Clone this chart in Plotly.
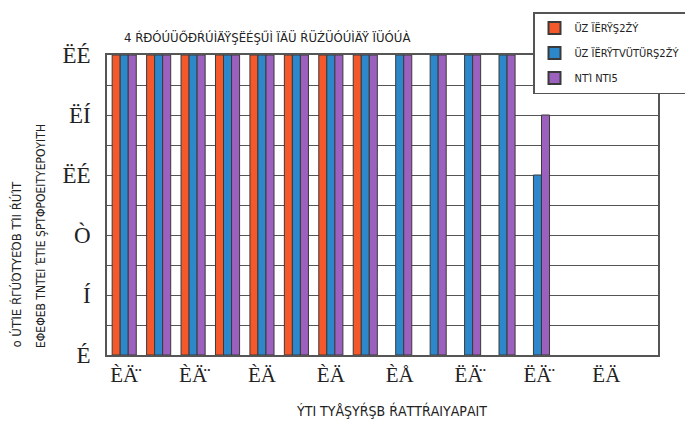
import plotly.graph_objects as go

# ---- data ----
categories = list(range(1, 17))
tick_positions = [1, 3, 5, 7, 9, 11, 13, 15]
x_tick_labels = ["ÈÄ̈", "ÈÄ̈", "ÈÄ", "ÈÄ", "ÈÅ", "ËÄ̈", "ËÄ̈", "ËÄ"]
y_tick_values = [0, 20, 40, 60, 80, 100]
y_tick_labels = ["É", "Í", "Ò", "ËÉ", "ËÍ", "ËÉ"]

series_names = ["ÜZ ÏËRŸŞ2ŽÝ", "ÜZ ÏËRŸΤVÜTÜRŞ2ŽÝ", "ΝΤΊ ΝΤΙ5"]
red_values = [100, 100, 100, 100, 100, 100, 100, 100, None, None, None, None, None, None, None, None]
blue_values = [100, 100, 100, 100, 100, 100, 100, 100, 100, 100, 100, 100, 60, None, None, None]
purple_values = [100, 100, 100, 100, 100, 100, 100, 100, 100, 100, 100, 100, 80, None, None, None]

title_text = "4 ŔÐÓÚÜŐÐŔÚÌÄŸŞËÉŞŰÌ ÏÄÜ ŔÜŹÜÓÚÌÄŸ ÏÜÓÚÀ"
x_title_text = "ÝΤΙ ΤΥÅŞΥŔŞΒ ŔΑΤΤŔΑΙΥΑΡΑΙΤ"
y_title_line1 = "ο ÚΤΊΕ ŔΓÚΌΤΥΕΌΒ ΤΊΙ ŔÚΊΤ"
y_title_line2 = "ΕΦΕΦΕΒ ΤΝΤΕΙ ΈΤΙΕ ŞΡΤΦΡΟΕΙΤΥΕΡΟΥΙΤΗ"

colors = ["#F4582B", "#2C88CB", "#9C60BE"]
narrow = "Liberation Sans Narrow, DejaVu Sans Condensed, sans-serif"
serif = "Liberation Serif, DejaVu Serif, serif"

fig = go.Figure()
for i, (name, vals, c) in enumerate(zip(series_names, [red_values, blue_values, purple_values], colors)):
    fig.add_trace(go.Bar(
        x=categories, y=vals, name=name, legendgroup=f"g{i}",
        marker=dict(color=c, line=dict(color="#3a3a3a", width=1)),
    ))

W, H = 685, 434
L, R, T, B = 107, 27, 55, 79
PW, PH = W - L - R, H - T - B

fig.update_layout(
    width=W, height=H,
    margin=dict(l=L, r=R, t=T, b=B, autoexpand=False),
    paper_bgcolor="white", plot_bgcolor="white",
    barmode="group", bargap=0.3, bargroupgap=0,
    showlegend=True,
    legend=dict(
        xref="container", yref="container",
        x=533 / W, y=1 - 12 / H,
        xanchor="left", yanchor="top",
        bgcolor="white", bordercolor="#555555", borderwidth=1.5,
        font=dict(family=narrow, size=11, color="#222"),
        itemsizing="constant", tracegroupgap=6, itemwidth=30,
    ),
    xaxis=dict(
        range=[0.5, 16.5], tickmode="array", tickvals=tick_positions, ticktext=x_tick_labels,
        showgrid=False, zeroline=False, showline=True, linecolor="#555555", linewidth=1.5,
        mirror=True, ticks="", tickfont=dict(family=serif, size=21, color="#222"),
    ),
    yaxis=dict(
        range=[0, 100], tickmode="array", tickvals=y_tick_values, ticktext=y_tick_labels,
        showgrid=True, gridcolor="#555555", gridwidth=1.2, zeroline=False,
        showline=True, linecolor="#555555", linewidth=1.5, mirror=True, ticks="",
        tickfont=dict(family=serif, size=23, color="#222"), ticklabelstandoff=10,
        minor=dict(dtick=10, showgrid=True, gridcolor="#555555", gridwidth=1.2),
    ),
)

fig.add_annotation(
    text=title_text, xref="paper", yref="paper",
    x=(122 - L) / PW, y=1 + (55 - 37) / PH,
    xanchor="left", yanchor="middle", showarrow=False,
    font=dict(family=narrow, size=13, color="#222"),
)
fig.add_annotation(
    text=x_title_text, xref="paper", yref="paper",
    x=(391 - L) / PW, y=-(410 - 355) / PH,
    xanchor="center", yanchor="middle", showarrow=False,
    font=dict(family=narrow, size=14, color="#222"),
)
for xpx, txt, sz in [(16, y_title_line1, 13), (41, y_title_line2, 12)]:
    fig.add_annotation(
        text=txt, xref="paper", yref="paper",
        x=(xpx - L) / PW, y=-(350 - 355) / PH,
        xanchor="center", yanchor="bottom", showarrow=False, textangle=-90,
        font=dict(family=narrow, size=sz, color="#222"),
    )

fig.write_html("out.html")
